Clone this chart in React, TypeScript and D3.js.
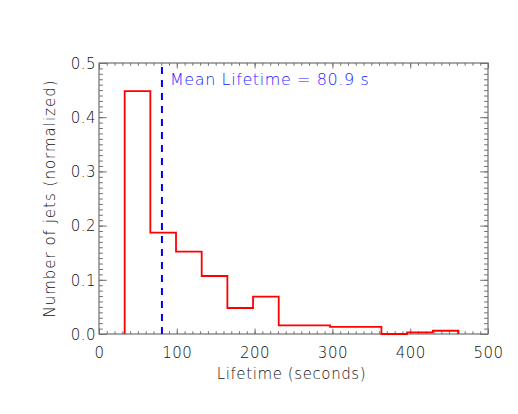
import React, { useRef, useEffect } from 'react';
import * as d3 from 'd3';

// histogram bin edges (seconds) and normalized counts per bin
const binEdges = [33, 66, 99, 132, 165, 198, 231, 264, 297, 330, 363, 396, 429, 462];
const binValues = [0.448, 0.187, 0.152, 0.107, 0.048, 0.069, 0.016, 0.016, 0.013, 0.013, 0.0, 0.003, 0.006];
const meanLifetime = 80.9;

const xTicks = [0, 100, 200, 300, 400, 500];
const yTicks = [0.0, 0.1, 0.2, 0.3, 0.4, 0.5];

const FONT = '"DejaVu Sans", sans-serif';

export default function App() {
    const ref = useRef<SVGSVGElement>(null);

    useEffect(() => {
        const svg = d3.select(ref.current);
        svg.selectAll('*').remove();

        const width = 518;
        const height = 414;
        const marginLeft = 99;
        const marginRight = 30;
        const marginTop = 63;
        const marginBottom = 80;
        const innerW = width - marginLeft - marginRight;
        const innerH = height - marginTop - marginBottom;

        const x = d3.scaleLinear().domain([0, 500]).range([marginLeft, width - marginRight]);
        const y = d3.scaleLinear().domain([0, 0.5]).range([height - marginBottom, marginTop]);

        const frameColor = '#707070';
        const textColor = '#111';
        const xMajor = innerH * 0.02;
        const yMajor = innerW * 0.02;

        const xMinorVals = d3.range(0, 501, 10);
        const yMinorVals = d3.range(0, 51, 1).map(d => d / 100);

        // minor ticks + unlabeled majors on top/right (all pointing inward)
        const tickAxes = [
            { ax: d3.axisBottom(x).tickValues(xMinorVals).tickSize(-xMajor / 2), t: `translate(0,${y(0)})` },
            { ax: d3.axisTop(x).tickValues(xMinorVals).tickSize(-xMajor / 2), t: `translate(0,${y(0.5)})` },
            { ax: d3.axisLeft(y).tickValues(yMinorVals).tickSize(-yMajor / 2), t: `translate(${x(0)},0)` },
            { ax: d3.axisRight(y).tickValues(yMinorVals).tickSize(-yMajor / 2), t: `translate(${x(500)},0)` },
            { ax: d3.axisTop(x).tickValues(xTicks).tickSize(-xMajor), t: `translate(0,${y(0.5)})` },
            { ax: d3.axisRight(y).tickValues(yTicks).tickSize(-yMajor), t: `translate(${x(500)},0)` },
        ];
        tickAxes.forEach(({ ax, t }) => {
            const g = svg.append('g').attr('transform', t).call(ax.tickFormat(() => ''));
            g.select('.domain').remove();
            g.selectAll('line').attr('stroke', frameColor);
        });

        // major ticks with labels
        const gx = svg.append('g')
            .attr('transform', `translate(0,${y(0)})`)
            .call(d3.axisBottom(x).tickValues(xTicks).tickSize(-xMajor).tickFormat(d3.format('d')));
        gx.select('.domain').remove();
        gx.selectAll('line').attr('stroke', frameColor);
        gx.selectAll('text')
            .attr('y', 24).attr('dy', 0)
            .attr('fill', textColor).attr('font-family', FONT).attr('font-size', 15).attr('font-weight', 200)
            .attr('letter-spacing', 0.5);

        const gy = svg.append('g')
            .attr('transform', `translate(${x(0)},0)`)
            .call(d3.axisLeft(y).tickValues(yTicks).tickSize(-yMajor).tickFormat(d3.format('.1f')));
        gy.select('.domain').remove();
        gy.selectAll('line').attr('stroke', frameColor);
        gy.selectAll('text')
            .attr('x', -3).attr('dy', '0.35em')
            .attr('fill', textColor).attr('font-family', FONT).attr('font-size', 15).attr('font-weight', 200)
            .attr('letter-spacing', 0.5);

        // frame
        svg.append('rect')
            .attr('x', x(0)).attr('y', y(0.5))
            .attr('width', x(500) - x(0)).attr('height', y(0) - y(0.5))
            .attr('fill', 'none').attr('stroke', frameColor).attr('stroke-width', 1.2);

        // histogram outline
        const pts: [number, number][] = [[binEdges[0], 0]];
        binValues.forEach((v, i) => pts.push([binEdges[i], v]));
        pts.push([binEdges[binEdges.length - 1], binValues[binValues.length - 1]]);
        pts.push([binEdges[binEdges.length - 1], 0]);
        const line = d3.line<[number, number]>()
            .x(d => x(d[0])).y(d => y(d[1]))
            .curve(d3.curveStepAfter);
        svg.append('path')
            .attr('d', line(pts))
            .attr('fill', 'none').attr('stroke', '#ff0000').attr('stroke-width', 1.8);

        // mean line
        svg.append('line')
            .attr('x1', x(meanLifetime)).attr('x2', x(meanLifetime))
            .attr('y1', y(0)).attr('y2', y(0.5))
            .attr('stroke', '#0000ff').attr('stroke-width', 2)
            .attr('stroke-dasharray', '7,6');

        svg.append('text')
            .attr('x', x(meanLifetime) + 8).attr('y', y(0.5) + 22)
            .attr('fill', '#1a1aff').attr('font-family', FONT).attr('font-size', 16).attr('font-weight', 200)
            .attr('letter-spacing', 0.6)
            .text(`Mean Lifetime = ${meanLifetime} s`);

        // axis titles
        svg.append('text')
            .attr('x', (x(0) + x(500)) / 2 - 2).attr('y', 379)
            .attr('text-anchor', 'middle')
            .attr('fill', textColor).attr('font-family', FONT).attr('font-size', 15).attr('font-weight', 200)
            .attr('letter-spacing', 0.6)
            .text('Lifetime (seconds)');

        svg.append('text')
            .attr('transform', `translate(55,${(y(0) + y(0.5)) / 2}) rotate(-90)`)
            .attr('text-anchor', 'middle')
            .attr('fill', textColor).attr('font-family', FONT).attr('font-size', 15).attr('font-weight', 200)
            .attr('letter-spacing', 1)
            .text('Number of jets (normalized)');
    }, []);

    return (
        <svg ref={ref} width={518} height={414}
            style={{ position: 'absolute', left: 0, top: 0, background: '#fff' }} />
    );
}
